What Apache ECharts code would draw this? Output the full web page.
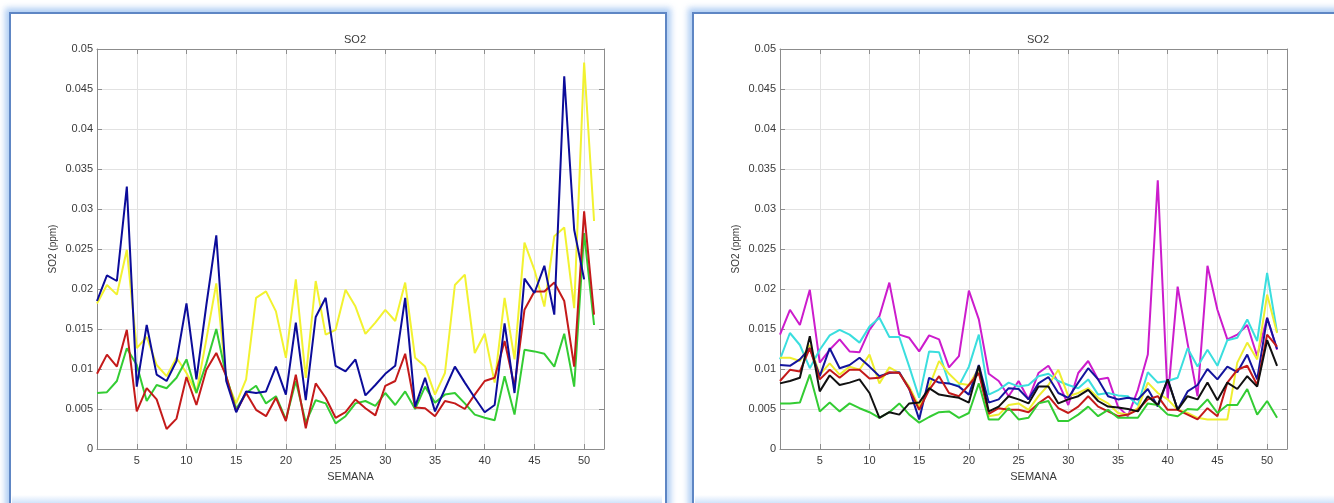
<!DOCTYPE html>
<html>
<head>
<meta charset="utf-8">
<script src="https://cdn.jsdelivr.net/npm/echarts@6/dist/echarts.min.js"></script>
<style>
  html, body { margin:0; padding:0; background:#fff; width:1334px; height:503px; overflow:hidden; }
  .frame { position:absolute; background:#fff; border:2px solid #5e86c4;
           box-shadow: 0 0 6px 4px rgba(150,190,240,0.75); }
  .band { position:absolute; height:8px; background:linear-gradient(to bottom, rgba(220,235,252,0), rgba(205,225,250,0.9)); }
  #chart { position:absolute; left:0; top:0; width:1334px; height:503px; }
</style>
</head>
<body>
<div class="frame" style="left:9px; top:12px; width:654px; height:500px;"></div>
<div class="frame" style="left:692px; top:12px; width:660px; height:500px;"></div>
<div class="band" style="left:12px; top:495px; width:650px;"></div>
<div class="band" style="left:695px; top:495px; width:640px;"></div>
<div id="chart"></div>
<script>
// ---- data (weeks 1..51) ----
const weekTicks = [5, 10, 15, 20, 25, 30, 35, 40, 45, 50];
const yTicks = [0, 0.005, 0.01, 0.015, 0.02, 0.025, 0.03, 0.035, 0.04, 0.045, 0.05];

// Left panel
const leftYellow = [0.0182,0.0205,0.0193,0.0249,0.0126,0.0140,0.0105,0.0091,0.0114,0.0095,0.0070,0.0137,0.0207,0.0087,0.0057,0.0087,0.0189,0.0197,0.0172,0.0114,0.0212,0.0089,0.0210,0.0143,0.0149,0.0199,0.0178,0.0144,0.0158,0.0174,0.0160,0.0208,0.0114,0.0103,0.0068,0.0095,0.0205,0.0218,0.0120,0.0144,0.0083,0.0189,0.0112,0.0258,0.0224,0.0178,0.0266,0.0277,0.0176,0.0483,0.0285];
const leftGreen  = [0.0070,0.0071,0.0085,0.0126,0.0105,0.0060,0.0080,0.0076,0.0089,0.0112,0.0070,0.0107,0.0150,0.0091,0.0050,0.0070,0.0079,0.0057,0.0066,0.0037,0.0085,0.0033,0.0061,0.0057,0.0032,0.0041,0.0057,0.0060,0.0054,0.0070,0.0055,0.0072,0.0050,0.0078,0.0058,0.0068,0.0070,0.0057,0.0043,0.0039,0.0036,0.0091,0.0043,0.0124,0.0122,0.0119,0.0103,0.0144,0.0078,0.0270,0.0155];
const leftRed    = [0.0094,0.0118,0.0103,0.0149,0.0047,0.0076,0.0062,0.0025,0.0038,0.0090,0.0055,0.0099,0.0120,0.0091,0.0047,0.0070,0.0049,0.0041,0.0064,0.0035,0.0093,0.0026,0.0082,0.0064,0.0039,0.0046,0.0062,0.0051,0.0042,0.0079,0.0085,0.0119,0.0052,0.0051,0.0041,0.0060,0.0057,0.0050,0.0068,0.0085,0.0089,0.0135,0.0078,0.0174,0.0197,0.0197,0.0208,0.0185,0.0103,0.0297,0.0168];
const leftBlue   = [0.0185,0.0217,0.0210,0.0328,0.0078,0.0155,0.0093,0.0085,0.0110,0.0182,0.0087,0.0180,0.0267,0.0085,0.0046,0.0072,0.0070,0.0072,0.0103,0.0068,0.0158,0.0061,0.0165,0.0189,0.0104,0.0097,0.0112,0.0067,0.0080,0.0094,0.0104,0.0189,0.0053,0.0089,0.0047,0.0075,0.0103,0.0083,0.0064,0.0046,0.0055,0.0157,0.0070,0.0213,0.0195,0.0229,0.0168,0.0466,0.0274,0.0212,null];

// Right panel
const rightMagenta = [0.0143,0.0174,0.0155,0.0199,0.0108,0.0124,0.0137,0.0122,0.0121,0.0149,0.0166,0.0208,0.0143,0.0139,0.0122,0.0142,0.0137,0.0102,0.0116,0.0198,0.0162,0.0094,0.0085,0.0066,0.0085,0.0062,0.0095,0.0104,0.0083,0.0055,0.0095,0.0110,0.0087,0.0089,0.0053,0.0041,0.0074,0.0118,0.0336,0.0062,0.0203,0.0132,0.0066,0.0229,0.0174,0.0137,0.0143,0.0155,0.0116,0.0164,0.0124];
const rightCyan    = [0.0112,0.0145,0.0130,0.0101,0.0124,0.0142,0.0149,0.0143,0.0133,0.0153,0.0164,0.0140,0.0140,0.0103,0.0064,0.0122,0.0121,0.0082,0.0079,0.0103,0.0143,0.0068,0.0074,0.0083,0.0078,0.0080,0.0091,0.0094,0.0085,0.0080,0.0076,0.0087,0.0068,0.0070,0.0067,0.0066,0.0055,0.0096,0.0083,0.0085,0.0089,0.0126,0.0103,0.0124,0.0104,0.0136,0.0139,0.0162,0.0135,0.0220,0.0146];
const rightYellow  = [0.0114,0.0114,0.0110,0.0130,0.0093,0.0107,0.0093,0.0103,0.0099,0.0118,0.0082,0.0102,0.0095,0.0078,0.0053,0.0078,0.0110,0.0094,0.0082,0.0080,0.0101,0.0041,0.0043,0.0055,0.0057,0.0049,0.0066,0.0080,0.0099,0.0066,0.0070,0.0076,0.0064,0.0057,0.0045,0.0043,0.0051,0.0083,0.0070,0.0062,0.0049,0.0045,0.0039,0.0037,0.0037,0.0037,0.0108,0.0133,0.0112,0.0193,0.0145];
const rightBlue    = [0.0105,0.0104,0.0112,0.0126,0.0091,0.0126,0.0101,0.0105,0.0114,0.0103,0.0091,0.0095,0.0096,0.0075,0.0037,0.0089,0.0083,0.0082,0.0078,0.0068,0.0105,0.0058,0.0062,0.0076,0.0075,0.0062,0.0082,0.0090,0.0070,0.0064,0.0083,0.0101,0.0087,0.0066,0.0062,0.0064,0.0062,0.0075,0.0053,0.0087,0.0049,0.0072,0.0080,0.0100,0.0087,0.0103,0.0096,0.0118,0.0087,0.0164,0.0125];
const rightRed     = [0.0085,0.0099,0.0097,0.0126,0.0087,0.0099,0.0089,0.0099,0.0099,0.0088,0.0089,0.0096,0.0095,0.0075,0.0049,0.0074,0.0091,0.0070,0.0066,0.0080,0.0095,0.0044,0.0051,0.0049,0.0049,0.0046,0.0057,0.0066,0.0051,0.0045,0.0053,0.0066,0.0053,0.0047,0.0041,0.0043,0.0049,0.0062,0.0066,0.0049,0.0049,0.0043,0.0037,0.0051,0.0041,0.0083,0.0099,0.0104,0.0080,0.0143,0.0128];
const rightGreen   = [0.0057,0.0057,0.0058,0.0093,0.0047,0.0058,0.0047,0.0057,0.0051,0.0046,0.0039,0.0046,0.0057,0.0043,0.0033,0.0040,0.0046,0.0047,0.0039,0.0045,0.0082,0.0037,0.0037,0.0051,0.0037,0.0039,0.0057,0.0060,0.0035,0.0035,0.0043,0.0053,0.0041,0.0049,0.0039,0.0039,0.0039,0.0057,0.0055,0.0043,0.0041,0.0050,0.0049,0.0062,0.0045,0.0055,0.0055,0.0075,0.0043,0.0060,0.0039];
const rightBlack   = [0.0082,0.0085,0.0089,0.0141,0.0072,0.0092,0.0080,0.0083,0.0087,0.0070,0.0039,0.0046,0.0043,0.0057,0.0058,0.0076,0.0068,0.0066,0.0064,0.0058,0.0104,0.0047,0.0053,0.0066,0.0062,0.0057,0.0078,0.0078,0.0057,0.0062,0.0066,0.0074,0.0060,0.0053,0.0052,0.0050,0.0047,0.0066,0.0055,0.0087,0.0049,0.0066,0.0062,0.0083,0.0061,0.0083,0.0075,0.0091,0.0078,0.0136,0.0104];

const titleText = 'SO2';
const xName = 'SEMANA';
const yName = 'SO2 (ppm)';

// ---- chart ----
const FONT = 'Liberation Sans, Arial, sans-serif';
const TXT = '#3a3a3a';
const BOX = '#8c8c8c';
const fmtY = v => String(+v.toFixed(4));

const panels = [
  { left: 97, title: 350, series: [
      ['#f2f230', leftYellow], ['#33cc33', leftGreen], ['#c41a1a', leftRed], ['#0c0c9a', leftBlue]
  ]},
  { left: 780, title: 1033, series: [
      ['#cc1ccc', rightMagenta], ['#3adede', rightCyan], ['#eeee30', rightYellow], ['#14149c', rightBlue],
      ['#c41a1a', rightRed], ['#33cc33', rightGreen], ['#111111', rightBlack]
  ]}
];

const option = { animation:false, title:[], grid:[], xAxis:[], yAxis:[], series:[] };

panels.forEach((p, i) => {
  option.title.push({ text: titleText, left: p.title, top: 29, textAlign: 'center',
    textStyle: { fontFamily: FONT, fontSize: 11, fontWeight: 'normal', color: TXT } });
  option.grid.push({ left: p.left, top: 49, width: 507, height: 400, show: false });
  const xBase = { type:'value', gridIndex:i, min:1, max:52,
    axisLine:{ show:true, onZero:false, lineStyle:{ color:BOX, width:1 } },
    axisTick:{ show:true, inside:true, length:5, customValues: weekTicks, lineStyle:{ color:BOX } } };
  option.xAxis.push(Object.assign({}, xBase, { position:'bottom',
    name: xName, nameLocation:'middle', nameGap: 22,
    nameTextStyle:{ fontFamily:FONT, fontSize:11, color:TXT },
    axisLabel:{ show:true, customValues: weekTicks, margin:6, fontFamily:FONT, fontSize:11, color:TXT },
    splitLine:{ show:true, customValues: weekTicks, lineStyle:{ color:'#e2e2e2', width:1 } } }));
  option.xAxis.push(Object.assign({}, xBase, { position:'top',
    axisLabel:{ show:false }, splitLine:{ show:false } }));
  const yBase = { type:'value', gridIndex:i, min:0, max:0.05, interval:0.005,
    axisLine:{ show:true, onZero:false, lineStyle:{ color:BOX, width:1 } },
    axisTick:{ show:true, inside:true, length:5, lineStyle:{ color:BOX } } };
  option.yAxis.push(Object.assign({}, yBase, { position:'left',
    name: yName, nameLocation:'middle', nameGap: 39,
    nameTextStyle:{ fontFamily:FONT, fontSize:10, color:TXT },
    axisLabel:{ formatter: fmtY, margin:4, fontFamily:FONT, fontSize:11, color:TXT },
    splitLine:{ show:true, lineStyle:{ color:'#e2e2e2', width:1 } } }));
  option.yAxis.push(Object.assign({}, yBase, { position:'right',
    axisLabel:{ show:false }, splitLine:{ show:false } }));
  p.series.forEach(([color, vals]) => {
    option.series.push({ type:'line', xAxisIndex: i*2, yAxisIndex: i*2,
      data: vals.map((v, k) => [k + 1, v]),
      showSymbol:false, symbol:'none', connectNulls:false,
      lineStyle:{ color: color, width: 2 }, itemStyle:{ color: color }, z: 3 });
  });
});

const chart = echarts.init(document.getElementById('chart'), null, { renderer:'canvas' });
chart.setOption(option);
</script>
</body>
</html>
